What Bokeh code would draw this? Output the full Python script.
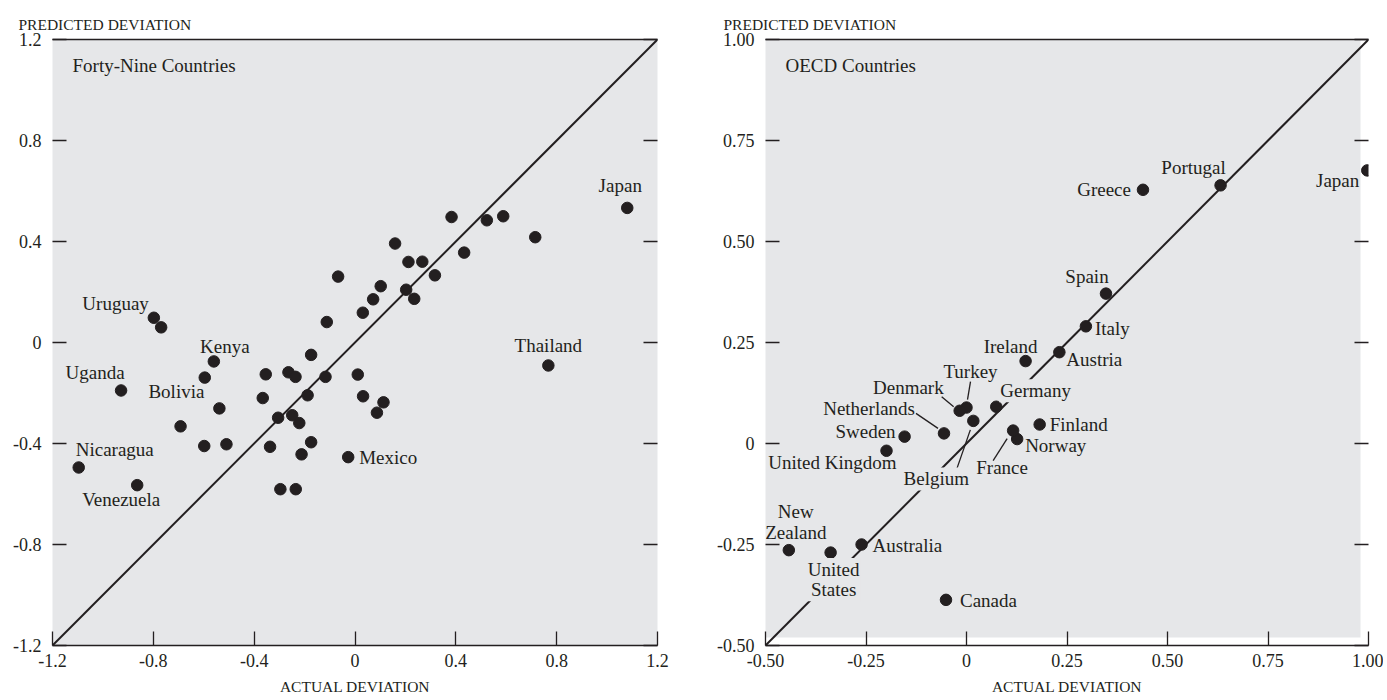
from bokeh.plotting import figure
from bokeh.layouts import row
from bokeh.models import (Range1d, LinearAxis, FixedTicker, CustomJSTickFormatter,
                          Label, BoxAnnotation)
from bokeh.embed import file_html
from bokeh.resources import INLINE

# ---------------- data ----------------
# Forty-nine countries: actual vs predicted deviation
all_x = [-0.798, -0.769, -0.560, -0.596, -0.928, -0.538, -0.692, -0.598, -0.510,
         -1.096, -0.864, -0.354, -0.264, -0.236, -0.174, -0.117, -0.112, -0.366,
         -0.188, -0.305, -0.249, -0.221, -0.337, -0.174, -0.212, -0.296, -0.235,
         -0.027, 0.011, 0.032, 0.113, 0.087, 0.031, 0.072, 0.102, 0.203, 0.235,
         -0.067, 0.159, 0.212, 0.267, 0.317, 0.383, 0.433, 0.523, 0.588, 0.715,
         0.767, 1.080]
all_y = [0.098, 0.060, -0.075, -0.139, -0.190, -0.261, -0.332, -0.410, -0.403,
         -0.495, -0.565, -0.126, -0.118, -0.136, -0.049, -0.136, 0.081, -0.220,
         -0.209, -0.298, -0.288, -0.319, -0.413, -0.395, -0.443, -0.581, -0.581,
         -0.454, -0.127, -0.213, -0.237, -0.278, 0.118, 0.171, 0.223, 0.209, 0.173,
         0.261, 0.392, 0.319, 0.320, 0.266, 0.497, 0.356, 0.484, 0.500, 0.417,
         -0.091, 0.533]
all_names = ["Uruguay", "", "Kenya", "", "Uganda", "Bolivia", "", "", "",
             "Nicaragua", "Venezuela", "", "", "", "", "", "", "",
             "", "", "", "", "", "", "", "", "",
             "Mexico", "", "", "", "", "", "", "", "", "",
             "", "", "", "", "", "", "", "", "", "",
             "Thailand", "Japan"]

# OECD countries
oecd_names = ["Greece", "Portugal", "Japan", "Spain", "Italy", "Ireland", "Austria",
              "Turkey", "Denmark", "Germany", "Belgium", "Netherlands", "Sweden",
              "United Kingdom", "Finland", "Norway", "France", "New Zealand",
              "United States", "Australia", "Canada"]
oecd_x = [0.439, 0.632, 0.997, 0.347, 0.297, 0.147, 0.231, 0.000, -0.017, 0.074,
          0.017, -0.056, -0.154, -0.199, 0.182, 0.126, 0.116, -0.442, -0.338,
          -0.261, -0.051]
oecd_y = [0.628, 0.639, 0.676, 0.371, 0.290, 0.204, 0.226, 0.089, 0.081, 0.091,
          0.056, 0.025, 0.017, -0.018, 0.047, 0.011, 0.032, -0.264, -0.270,
          -0.250, -0.387]

left_ticks = [-1.2, -0.8, -0.4, 0, 0.4, 0.8, 1.2]
right_ticks = [-0.5, -0.25, 0, 0.25, 0.5, 0.75, 1.0]

y_title = "PREDICTED DEVIATION"
x_title = "ACTUAL DEVIATION"

# ---------------- styles / layout ----------------
FONT = "Liberation Serif"
INK = "#231f20"
GRAY = "#e6e7e9"
FS = "18px"
LFS = "19px"

# label placement: name -> list of (text, dx px, dy px (up), align, has_bg)
left_label_pos = {
    "Uruguay": [("Uruguay", -5, 14, "right", False)],
    "Kenya": [("Kenya", 11, 15, "center", False)],
    "Uganda": [("Uganda", -26, 18, "center", False)],
    "Bolivia": [("Bolivia", -15, 17, "right", False)],
    "Nicaragua": [("Nicaragua", -3, 18, "left", False)],
    "Venezuela": [("Venezuela", -16, -14, "center", False)],
    "Mexico": [("Mexico", 11, 0, "left", False)],
    "Thailand": [("Thailand", 0, 20, "center", False)],
    "Japan": [("Japan", -7, 22, "center", False)],
}
right_label_pos = {
    "Greece": [("Greece", -12, 0, "right", False)],
    "Portugal": [("Portugal", -27, 18, "center", False)],
    "Japan": [("Japan", -8, -10, "right", False)],
    "Spain": [("Spain", -19, 17, "center", False)],
    "Italy": [("Italy", 9, -2, "left", False)],
    "Ireland": [("Ireland", -15, 15, "center", False)],
    "Austria": [("Austria", 7, -7, "left", False)],
    "Turkey": [("Turkey", 4, 36, "center", False)],
    "Denmark": [("Denmark", -16, 23, "right", False)],
    "Germany": [("Germany", 3, 16, "left", True)],
    "Belgium": [("Belgium", -37, -58, "center", True)],
    "Netherlands": [("Netherlands", -29, 25, "right", False)],
    "Sweden": [("Sweden", -9, 5, "right", False)],
    "United Kingdom": [("United Kingdom", 10, -12, "right", False)],
    "Finland": [("Finland", 10, 0, "left", False)],
    "Norway": [("Norway", 8, -6, "left", False)],
    "France": [("France", -11, -37, "center", False)],
    "New Zealand": [("New\nZealand", 7, 28, "center", False)],
    "United States": [("United\nStates", 3, -27, "center", True)],
    "Australia": [("Australia", 11, -1, "left", False)],
    "Canada": [("Canada", 14, -1, "left", False)],
}
# leader lines: name -> (start dx, start dy, end dx, end dy) in px (dy up)
right_leaders = {
    "Denmark": (-18, 14, -6, 4),
    "Netherlands": (-28, 20, -6, 5),
    "Turkey": (4, 26, 1, 8),
    "Belgium": (-20, -58, -3, -9),
    "France": (-20, -30, -6, -8),
}


def make_panel(xr, yr, ticks, digits, fw, fh, mbl, mbr, title, bg_in_frame, ytitle_off):
    p = figure(x_range=Range1d(*xr), y_range=Range1d(*yr),
               frame_width=fw, frame_height=fh,
               min_border_left=mbl, min_border_right=mbr,
               min_border_top=39, min_border_bottom=55,
               output_backend="svg", toolbar_location=None)
    p.outline_line_color = None
    p.grid.visible = False
    p.background_fill_color = GRAY if bg_in_frame else "white"
    p.border_fill_color = "white"
    fmt = CustomJSTickFormatter(code="return Math.abs(tick) < 1e-9 ? '0' : tick.toFixed(%d);" % digits)
    blank = CustomJSTickFormatter(code="return '';")

    # y title (top-left, above the frame)
    p.title.text = y_title
    p.title.align = "left"
    p.title.offset = ytitle_off
    p.title.text_font = FONT
    p.title.text_font_size = "15.5px"
    p.title.text_font_style = "normal"
    p.title.text_color = INK
    p.title.standoff = 14

    xa = p.xaxis[0]
    ya = p.yaxis[0]
    for ax in (xa, ya):
        ax.ticker = FixedTicker(ticks=ticks)
        ax.formatter = fmt
        ax.major_tick_in = 14
        ax.major_tick_out = 0
        ax.minor_tick_in = 0
        ax.minor_tick_out = 0
        ax.major_tick_line_color = INK
        ax.major_tick_line_width = 1.3
        ax.major_label_text_font = FONT
        ax.major_label_text_font_size = FS
        ax.major_label_text_color = INK
    xa.axis_line_color = INK
    xa.axis_line_width = 1.5
    xa.major_label_standoff = 8
    xa.axis_label = x_title
    xa.axis_label_text_font = FONT
    xa.axis_label_text_font_size = "15.5px"
    xa.axis_label_text_font_style = "normal"
    xa.axis_label_text_color = INK
    xa.axis_label_standoff = 8
    ya.axis_line_color = None
    ya.major_label_standoff = 11

    ra = LinearAxis(ticker=FixedTicker(ticks=ticks), formatter=blank,
                    major_tick_in=14, major_tick_out=0,
                    minor_tick_in=0, minor_tick_out=0, major_tick_line_color=INK,
                    major_tick_line_width=1.3, axis_line_color=None,
                    major_label_standoff=0)
    p.add_layout(ra, "right")
    ta = LinearAxis(ticker=FixedTicker(ticks=[]), formatter=blank,
                    major_tick_in=0, major_tick_out=0,
                    minor_tick_in=0, minor_tick_out=0, axis_line_color=INK,
                    axis_line_width=1.5, major_label_standoff=0)
    p.add_layout(ta, "above")

    # diagonal 45-degree line across the whole range
    p.line([xr[0], xr[1]], [yr[0], yr[1]], line_color=INK, line_width=2)

    # panel title
    p.add_layout(Label(x=xr[0], y=yr[1], x_offset=20, y_offset=-26, text=title,
                       text_font=FONT, text_font_size=LFS, text_color=INK,
                       text_baseline="middle", text_align="left"))
    return p


def add_labels(p, xs, ys, names, pos, bg):
    for xv, yv, nm in zip(xs, ys, names):
        for (txt, dx, dy, al, has_bg) in pos.get(nm, []):
            kw = {}
            if has_bg:
                kw = dict(background_fill_color=bg, padding=1)
            p.add_layout(Label(x=xv, y=yv, x_offset=dx, y_offset=dy, text=txt,
                               text_font=FONT, text_font_size=LFS, text_color=INK,
                               text_line_height=0.97,
                               text_baseline="middle", text_align=al, **kw))


# ---------------- left panel ----------------
LXR = (left_ticks[0], left_ticks[-1])
p1 = make_panel(LXR, LXR, left_ticks, 1, 605, 606, 52, 43, "Forty-Nine Countries", True, -34)
p1.scatter(all_x, all_y, size=11.5, color=INK)
add_labels(p1, all_x, all_y, all_names, left_label_pos, GRAY)

# ---------------- right panel ----------------
RXR = (right_ticks[0], right_ticks[-1])
p2 = make_panel(RXR, RXR, right_ticks, 2, 603, 606, 65, 15, "OECD Countries", False, -42)
sx = 603 / (RXR[1] - RXR[0])
sy = 606 / (RXR[1] - RXR[0])
p2.add_layout(BoxAnnotation(left=RXR[0] - 12 / sx, right=RXR[1] - 8 / sx,
                            bottom=RXR[0] + 8 / sy, top=RXR[1] + 7 / sy,
                            fill_color=GRAY, fill_alpha=1, line_color=None,
                            level="underlay"))
lx0, ly0, lx1, ly1 = [], [], [], []
for xv, yv, nm in zip(oecd_x, oecd_y, oecd_names):
    if nm in right_leaders:
        a, b, c, d = right_leaders[nm]
        lx0.append(xv + a / sx)
        ly0.append(yv + b / sy)
        lx1.append(xv + c / sx)
        ly1.append(yv + d / sy)
p2.segment(lx0, ly0, lx1, ly1, line_color=INK, line_width=1.3)
p2.scatter(oecd_x, oecd_y, size=11.5, color=INK)
add_labels(p2, oecd_x, oecd_y, oecd_names, right_label_pos, GRAY)

layout = row(p1, p2)
open("out.html", "w").write(file_html(layout, INLINE))
